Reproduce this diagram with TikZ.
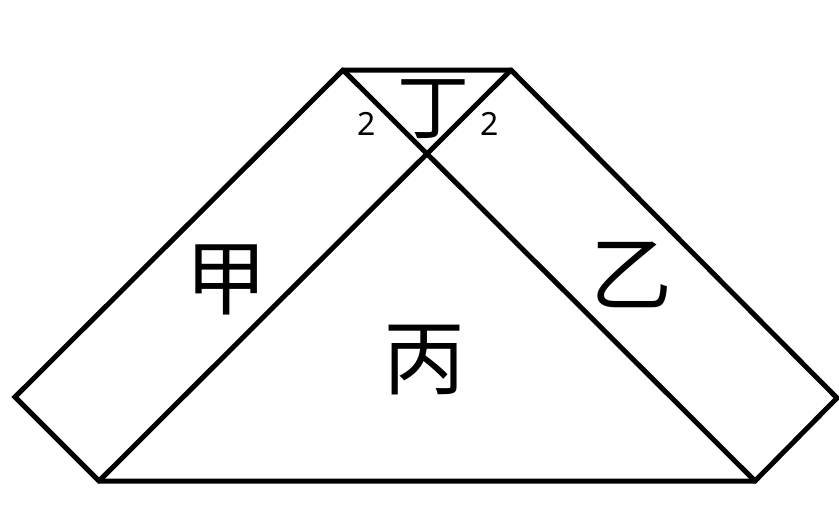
\documentclass[tikz,border=0pt]{standalone}
\usepackage{fontspec}
\setmainfont{Noto Sans}
\newfontfamily\cjk{Noto Sans CJK SC}
\begin{document}
\begin{tikzpicture}[x=1pt,y=-1pt,
  edge/.style={line width=5pt,line join=miter,line cap=round},
  biglabel/.style={font=\cjk\fontsize{82}{82}\selectfont,inner sep=0pt},
  midlabel/.style={font=\cjk\fontsize{72}{72}\selectfont,inner sep=0pt},
  numlabel/.style={font=\fontsize{32}{32}\selectfont,inner sep=0pt}]
\useasboundingbox (0,0) rectangle (839,520);
\coordinate (TL) at (343,70);
\coordinate (TR) at (511,70);
\coordinate (X) at (427,155);
\coordinate (L) at (15,397);
\coordinate (BL) at (99,481);
\coordinate (BR) at (755,481);
\coordinate (R) at (837,398);
\draw[edge] (TL) -- (TR) -- (R) -- (BR) -- (BL) -- (L) -- cycle;
\draw[edge] (TL) -- (BR);
\draw[edge] (TR) -- (BL);
\node[biglabel] (jia) at (226,280) {甲};
\node[biglabel] (yi) at (631,275) {乙};
\node[biglabel] (bing) at (424,360) {丙};
\node[midlabel] (ding) at (433,109) {丁};
\node[numlabel] (a) at (367,124) {2};
\node[numlabel] (b) at (490,124) {2};
\end{tikzpicture}
\end{document}
